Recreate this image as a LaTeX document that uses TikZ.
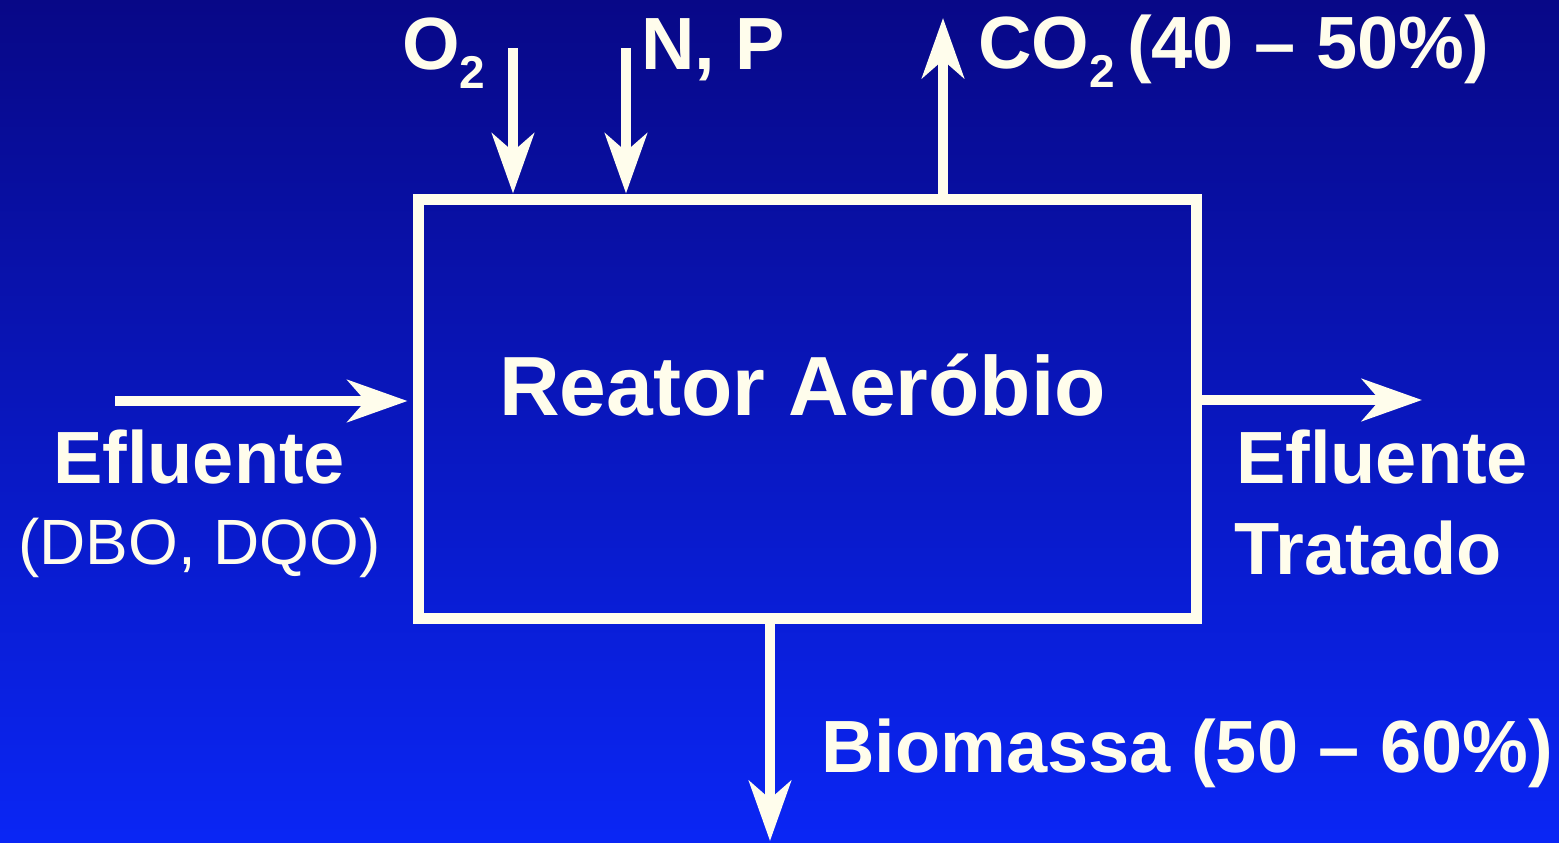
\documentclass[tikz,border=0pt]{standalone}
\usepackage{fontspec}
\setmainfont{Liberation Sans}
\usetikzlibrary{arrows.meta}
\definecolor{bgtop}{RGB}{8,8,135}
\definecolor{bgbot}{RGB}{10,38,245}
\definecolor{txtc}{RGB}{255,253,236}
\newcommand{\subtwo}{\raisebox{-19pt}{\fontsize{46}{46}\selectfont 2}}
\tikzset{
  lbl/.style={text=txtc, inner sep=0pt, anchor=base west, font=\fontsize{74}{80}\selectfont\bfseries},
  lblreg/.style={text=txtc, inner sep=0pt, anchor=base west, font=\fontsize{64}{70}\selectfont},
  flow/.style={draw=txtc, line width=10pt, -{Stealth[length=60pt, width=42pt, inset=18pt]}},
  boxstyle/.style={draw=txtc, line width=11pt, minimum width=778pt, minimum height=419pt, inner sep=0pt}
}
\begin{document}
\begin{tikzpicture}[x={(1pt,0)}, y={(0,-1pt)}]
\useasboundingbox (0,0) rectangle (1559,843);
\shade[top color=bgtop, bottom color=bgbot] (0,0) rectangle (1559,843);
\node[boxstyle] (reator) at (807,408.5) {};
\node[text=txtc, inner sep=0pt, anchor=base west, font=\fontsize{84}{90}\selectfont\bfseries] (title) at (499,415) {Reator Aeróbio};
% top inputs
\coordinate (o2s) at (513,48);
\coordinate (nps) at (626,48);
\coordinate (co2e) at (943,18);
\draw[flow] (o2s) -- (o2s |- reator.north);
\draw[flow] (nps) -- (nps |- reator.north);
\draw[flow] (co2e |- reator.north) -- (co2e);
\node[lbl] (o2) at (402,70) {O\subtwo};
\node[lbl] (np) at (641,70) {N, P};
\node[lbl] (co2) at (978,69) {CO\subtwo\,(40 – 50\%)};
% left input
\coordinate (ins) at (115,401);
\draw[flow, shorten >=5pt] (ins) -- (ins -| reator.west);
\node[lbl] (efl) at (53,483) {Efluente};
\node[lblreg] (dbo) at (18,564) {(DBO, DQO)};
% right output
\coordinate (oute) at (1422,400);
\draw[flow] (oute -| reator.east) -- (oute);
\node[lbl] (efr) at (1236,483) {Efluente};
\node[lbl] (trat) at (1234,574) {Tratado};
% bottom output
\coordinate (bioe) at (770,841);
\draw[flow] (bioe |- reator.south) -- (bioe);
\node[lbl] (bio) at (821,772) {Biomassa (50 – 60\%)};
\end{tikzpicture}
\end{document}
